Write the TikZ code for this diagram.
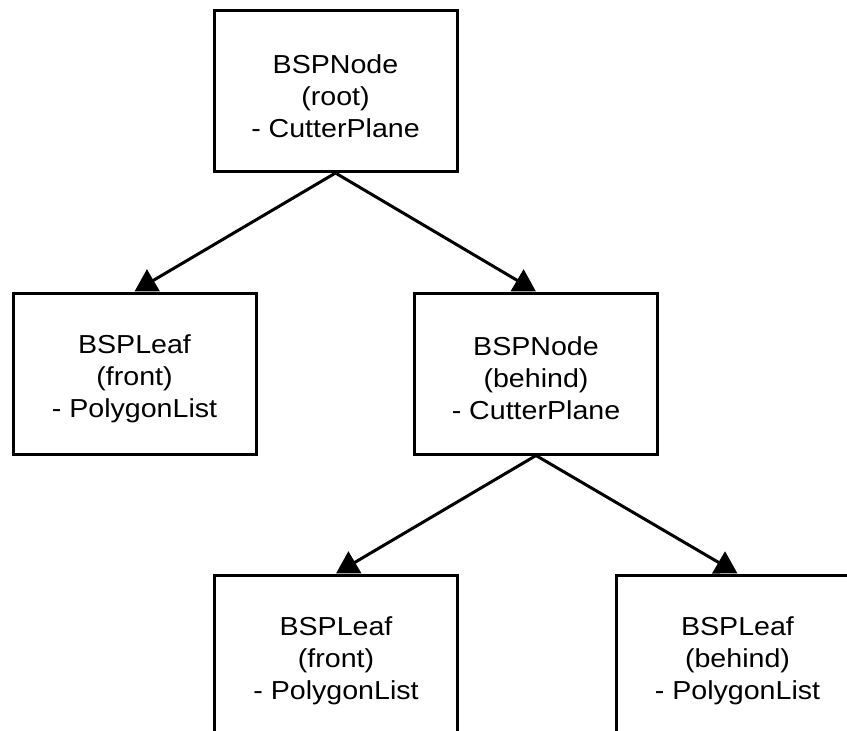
\documentclass[tikz,border=0pt]{standalone}
\usepackage{fontspec}
\setmainfont[FakeStretch=1.1]{Liberation Sans}
\usetikzlibrary{arrows.meta}
\begin{document}
\begin{tikzpicture}[x=1pt,y=1pt,
  box/.style={draw=black,line width=3pt,fill=white,rectangle,inner sep=0pt,
    minimum width=243pt,minimum height=161pt},
  txt/.style={align=center,inner sep=0pt,font=\fontsize{26}{32}\selectfont},
  arr/.style={line width=3pt,-{Triangle[length=22pt,width=25pt]}}]
\useasboundingbox (0,0) rectangle (847,-731);
\node[box] (root) at (335.5,-91) {};
\node[box] (front) at (134.5,-373.5) {};
\node[box] (behind) at (536,-373.5) {};
\node[box] (front2) at (336,-655.5) {};
\node[box] (behind2) at (737.5,-655.5) {};
\node[txt] (rootT) at ([yshift=-5pt]root.center) {BSPNode\\(root)\\- CutterPlane};
\node[txt] (frontT) at ([yshift=-5pt]front.center) {BSPLeaf\\(front)\\- PolygonList};
\node[txt] (behindT) at ([yshift=-5pt]behind.center) {BSPNode\\(behind)\\- CutterPlane};
\node[txt] (front2T) at ([yshift=-5pt]front2.center) {BSPLeaf\\(front)\\- PolygonList};
\node[txt] (behind2T) at ([yshift=-5pt]behind2.center) {BSPLeaf\\(behind)\\- PolygonList};
\draw[arr] (root.south) -- (front.north);
\draw[arr] (root.south) -- (behind.north);
\draw[arr] (behind.south) -- (front2.north);
\draw[arr] (behind.south) -- (behind2.north);
\end{tikzpicture}
\end{document}
